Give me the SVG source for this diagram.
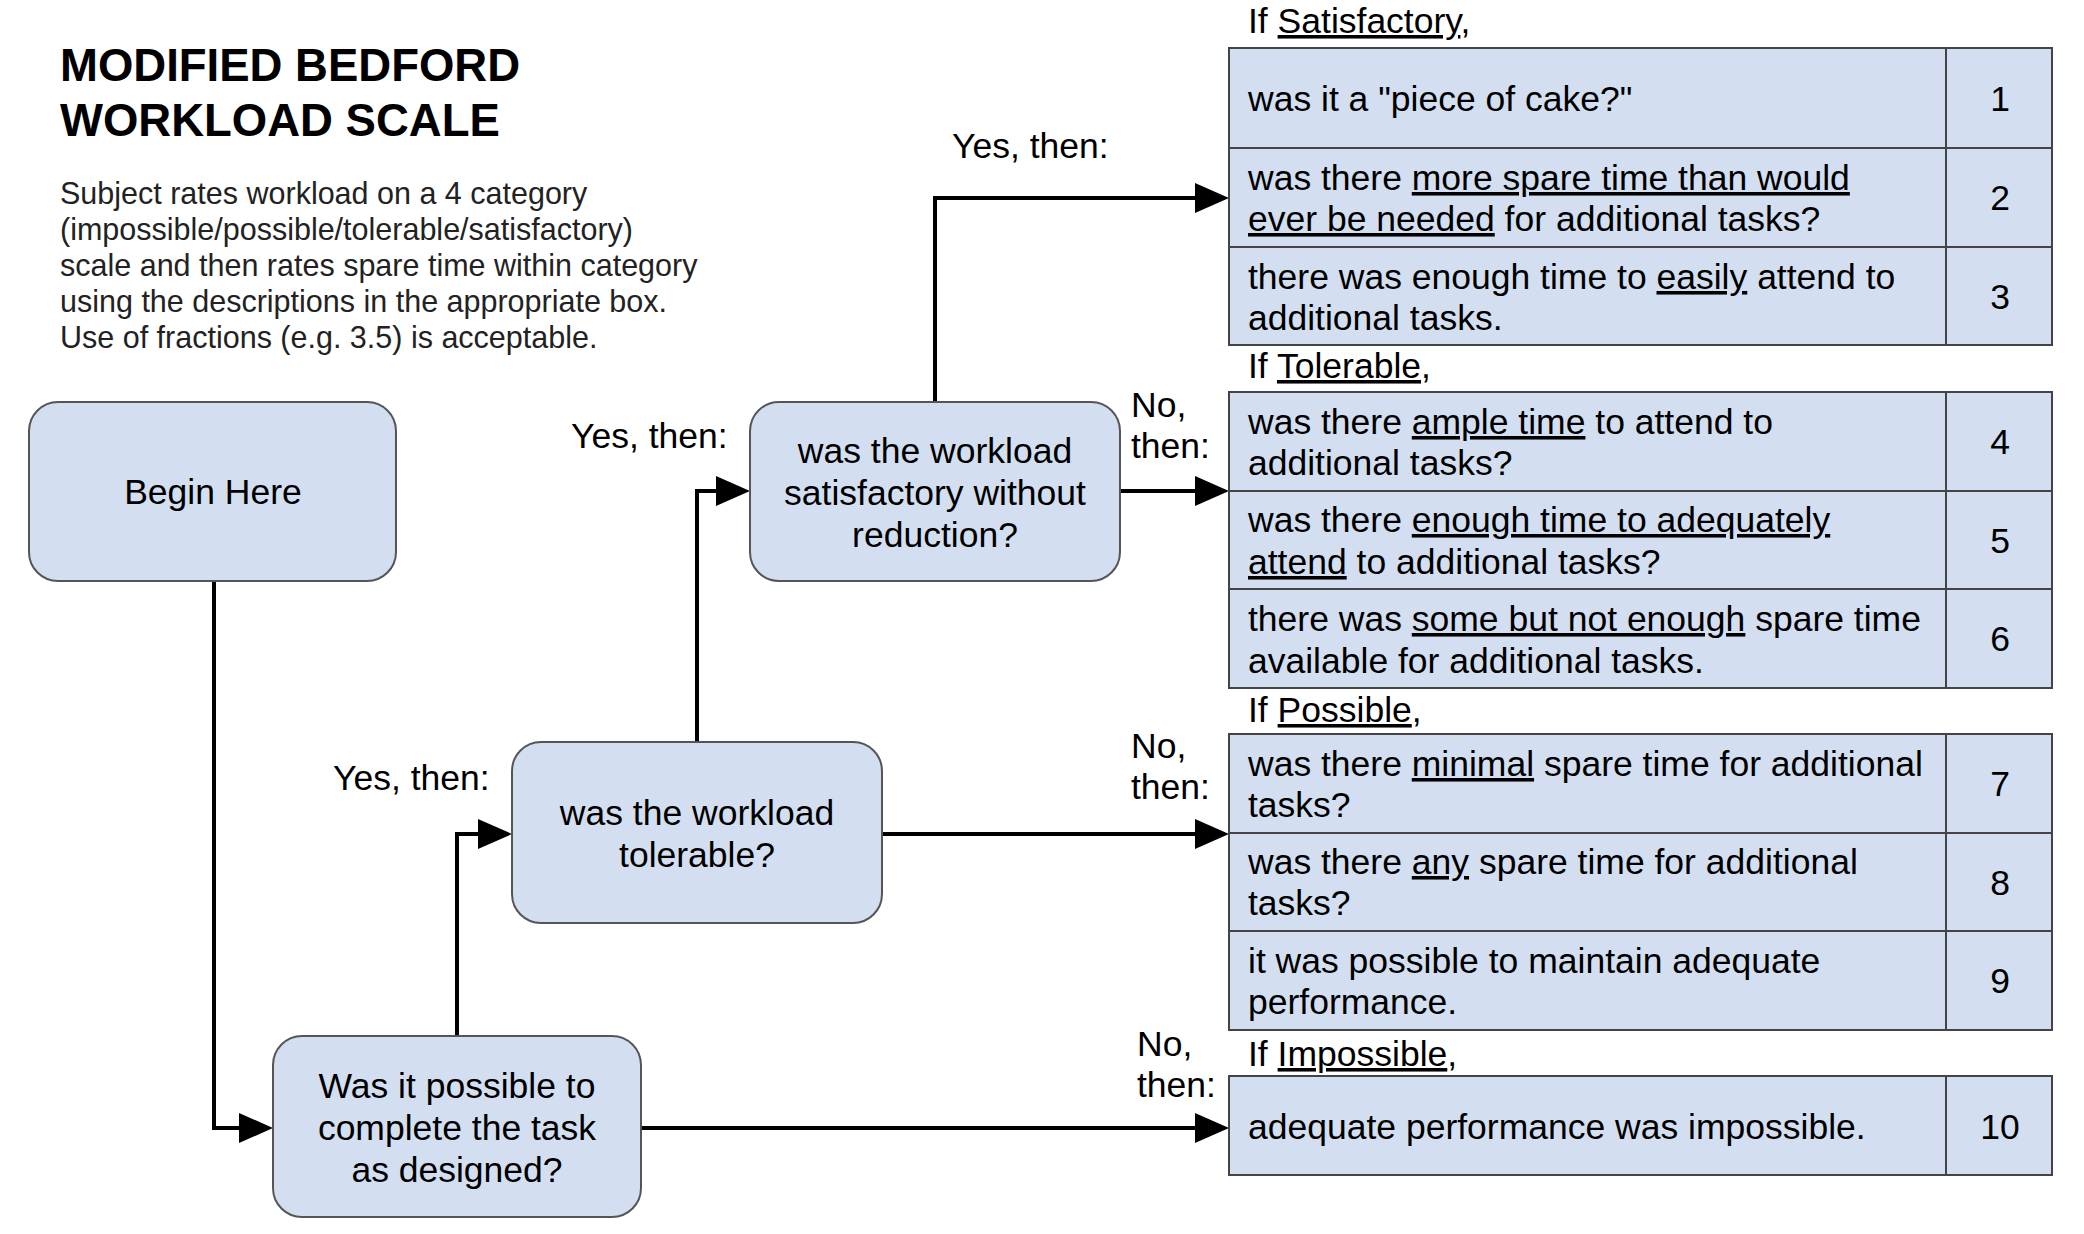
<svg xmlns="http://www.w3.org/2000/svg" width="2084" height="1234" viewBox="0 0 2084 1234">
<defs>
<style>
text{font-family:"Liberation Sans",Arial,sans-serif;fill:#000}
.title{font-size:45.5px;font-weight:bold}
.body{font-size:30.5px;fill:#222}
.t{font-size:35.5px}
.c{text-anchor:middle}
.node{fill:#d3dff0;stroke:#555;stroke-width:2}
.cell{fill:#d3dff0;stroke:#444;stroke-width:2}
.grid{fill:none;stroke:#444;stroke-width:2}
.conn{fill:none;stroke:#000;stroke-width:4}
.u{text-decoration:underline}
</style>
<marker id="arr" markerUnits="userSpaceOnUse" markerWidth="36" markerHeight="30" refX="26" refY="15" orient="auto"><path d="M0,0 L34,15 L0,30 Z" fill="#000"/></marker>
</defs>
<rect width="2084" height="1234" fill="#fff"/>

<g id="title">
<text class="title" x="60" y="81">MODIFIED BEDFORD</text>
<text class="title" x="60" y="136">WORKLOAD SCALE</text>
</g>
<g id="description">
<text class="body" x="60" y="204">Subject rates workload on a 4 category</text>
<text class="body" x="60" y="240">(impossible/possible/tolerable/satisfactory)</text>
<text class="body" x="60" y="276">scale and then rates spare time within category</text>
<text class="body" x="60" y="312">using the descriptions in the appropriate box.</text>
<text class="body" x="60" y="348">Use of fractions (e.g. 3.5) is acceptable.</text>
</g>

<g id="connectors">
<path class="conn" d="M214,581 V1128 H265" marker-end="url(#arr)"/>
<path class="conn" d="M457,1036 V834 H504" marker-end="url(#arr)"/>
<path class="conn" d="M697,742 V491 H742" marker-end="url(#arr)"/>
<path class="conn" d="M935,402 V198 H1221" marker-end="url(#arr)"/>
<path class="conn" d="M1120,491 H1221" marker-end="url(#arr)"/>
<path class="conn" d="M882,834 H1221" marker-end="url(#arr)"/>
<path class="conn" d="M641,1128 H1221" marker-end="url(#arr)"/>
</g>

<g id="labels">
<text class="t" x="952" y="158">Yes, then:</text>
<text class="t" x="571" y="448">Yes, then:</text>
<text class="t" x="333" y="790">Yes, then:</text>
<text class="t" x="1131" y="417">No,</text>
<text class="t" x="1131" y="458">then:</text>
<text class="t" x="1131" y="758">No,</text>
<text class="t" x="1131" y="799">then:</text>
<text class="t" x="1137" y="1056">No,</text>
<text class="t" x="1137" y="1097">then:</text>
</g>

<g id="begin">
<rect class="node" x="29" y="402" width="367" height="179" rx="29"/>
<text class="t c" x="213" y="504">Begin Here</text>
</g>

<g id="satisfactory-q">
<rect class="node" x="750" y="402" width="370" height="179" rx="29"/>
<text class="t c" x="935" y="463">was the workload</text>
<text class="t c" x="935" y="505">satisfactory without</text>
<text class="t c" x="935" y="547">reduction?</text>
</g>

<g id="tolerable-q">
<rect class="node" x="512" y="742" width="370" height="181" rx="29"/>
<text class="t c" x="697" y="825">was the workload</text>
<text class="t c" x="697" y="867">tolerable?</text>
</g>

<g id="possible-q">
<rect class="node" x="273" y="1036" width="368" height="181" rx="29"/>
<text class="t c" x="457" y="1098">Was it possible to</text>
<text class="t c" x="457" y="1140">complete the task</text>
<text class="t c" x="457" y="1182">as designed?</text>
</g>

<g id="table-satisfactory">
<text class="t" x="1248" y="33">If <tspan class="u">Satisfactory</tspan>,</text>
<rect class="cell" x="1229" y="48" width="823" height="297"/>
<path class="grid" d="M1229,148 H2052 M1229,247 H2052 M1946,48 V345"/>
<text class="t" x="1248" y="111">was it a "piece of cake?"</text>
<text class="t" x="1248" y="190">was there <tspan class="u">more spare time than would</tspan></text>
<text class="t" x="1248" y="231"><tspan class="u">ever be needed</tspan> for additional tasks?</text>
<text class="t" x="1248" y="289">there was enough time to <tspan class="u">easily</tspan> attend to</text>
<text class="t" x="1248" y="330">additional tasks.</text>
<text class="t c" x="2000" y="111">1</text>
<text class="t c" x="2000" y="210">2</text>
<text class="t c" x="2000" y="309">3</text>
</g>

<g id="table-tolerable">
<text class="t" x="1248" y="378">If <tspan class="u">Tolerable</tspan>,</text>
<rect class="cell" x="1229" y="392" width="823" height="296"/>
<path class="grid" d="M1229,491 H2052 M1229,589 H2052 M1946,392 V688"/>
<text class="t" x="1248" y="434">was there <tspan class="u">ample time</tspan> to attend to</text>
<text class="t" x="1248" y="475">additional tasks?</text>
<text class="t" x="1248" y="532">was there <tspan class="u">enough time to adequately</tspan></text>
<text class="t" x="1248" y="574"><tspan class="u">attend</tspan> to additional tasks?</text>
<text class="t" x="1248" y="631">there was <tspan class="u">some but not enough</tspan> spare time</text>
<text class="t" x="1248" y="673">available for additional tasks.</text>
<text class="t c" x="2000" y="454">4</text>
<text class="t c" x="2000" y="553">5</text>
<text class="t c" x="2000" y="651">6</text>
</g>

<g id="table-possible">
<text class="t" x="1248" y="722">If <tspan class="u">Possible</tspan>,</text>
<rect class="cell" x="1229" y="734" width="823" height="296"/>
<path class="grid" d="M1229,833 H2052 M1229,931 H2052 M1946,734 V1030"/>
<text class="t" x="1248" y="776">was there <tspan class="u">minimal</tspan> spare time for additional</text>
<text class="t" x="1248" y="817">tasks?</text>
<text class="t" x="1248" y="874">was there <tspan class="u">any</tspan> spare time for additional</text>
<text class="t" x="1248" y="915">tasks?</text>
<text class="t" x="1248" y="973">it was possible to maintain adequate</text>
<text class="t" x="1248" y="1014">performance.</text>
<text class="t c" x="2000" y="796">7</text>
<text class="t c" x="2000" y="895">8</text>
<text class="t c" x="2000" y="993">9</text>
</g>

<g id="table-impossible">
<text class="t" x="1248" y="1066">If <tspan class="u">Impossible</tspan>,</text>
<rect class="cell" x="1229" y="1076" width="823" height="99"/>
<path class="grid" d="M1946,1076 V1175"/>
<text class="t" x="1248" y="1139">adequate performance was impossible.</text>
<text class="t c" x="2000" y="1139">10</text>
</g>
</svg>
